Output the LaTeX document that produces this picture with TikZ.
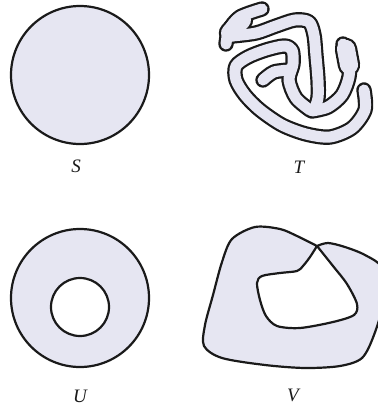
\documentclass[tikz,border=0pt]{standalone}
\usepackage{fontspec}
\setmainfont{Liberation Serif}
\usepackage{tikz}
\definecolor{ink}{HTML}{1A1A1A}
\definecolor{lilac}{HTML}{E6E6F2}
\tikzset{
  region/.style={draw=ink,fill=lilac,line width=2.2pt,line cap=round,line join=round},
  hole/.style={draw=ink,fill=white,line width=2.2pt},
  bandedge/.style={draw=ink,line width=15.4pt,line cap=round,line join=round},
  bandcore/.style={draw=lilac,line width=11pt,line cap=round,line join=round},
  lobeedge/.style={draw=ink,line width=22.4pt,line cap=round,line join=round},
  lobecore/.style={draw=lilac,line width=18pt,line cap=round,line join=round},
  setlabel/.style={font=\fontsize{19}{22}\selectfont\itshape,text=ink,inner sep=0pt}
}
\begin{document}
\begin{tikzpicture}[x=1pt,y=-1pt]
  \clip (0,0) rectangle (378,408);
  \fill[white] (0,0) rectangle (378,408);
  % S: disc
  \draw[region] (80,75) circle[radius=69];
  % U: annulus
  \draw[region] (80,298) circle[radius=69];
  \draw[hole] (80,307) circle[radius=29];
  % T: winding band, outline pass then core pass
  \foreach \layer/\wide in {bandedge/lobeedge,bandcore/lobecore}{
    \draw[\wide] (230,33) -- (242,20);
    \draw[\wide] (346,49) -- (349,65);
    \draw[\layer] plot[smooth] coordinates {(226,44) (229,30) (240,17) (262,9)};
    \draw[\layer] plot[smooth] coordinates {(232,36) (256,33) (276,26) (295,20) (309,22) (314,35) (316,56) (318,80) (318,98) (314,110)};
    \draw[\layer] plot[smooth] coordinates {(364,90) (365,110) (352,128) (330,137) (306,134) (282,125) (260,110) (245,95) (236,80) (236,66) (248,57) (266,50) (284,46) (292,50) (293,64) (289,80) (296,98) (310,110)};
    \draw[\layer] plot[smooth] coordinates {(290,70) (274,72) (263,80)};
    \draw[\layer] plot[smooth] coordinates {(343,44) (349,60) (349,77) (342,95) (328,107) (312,111)};
  }
  % V: region with a hole touching the boundary
  \path[region,even odd rule]
    plot[smooth] coordinates {(317,246) (328,243) (345,247) (365,255) (382,268) (384,300) (374,335) (362,358) (340,366) (305,368) (265,365) (222,358) (204,346) (205,325) (213,295) (222,262) (232,239) (255,227) (280,229) (297,236) (317,246)}
    plot[smooth] coordinates {(317,246) (310,257) (303,266) (297,271) (280,273) (262,276) (257,283) (260,300) (266,316) (277,326) (300,328) (333,322) (354,315) (357,304) (347,284) (333,266) (317,246)};
  % labels
  \node[setlabel] (labS) at (76,166) {S};
  \node[setlabel] (labT) at (299,167) {T};
  \node[setlabel] (labU) at (80,396) {U};
  \node[setlabel] (labV) at (293,395) {V};
\end{tikzpicture}
\end{document}
